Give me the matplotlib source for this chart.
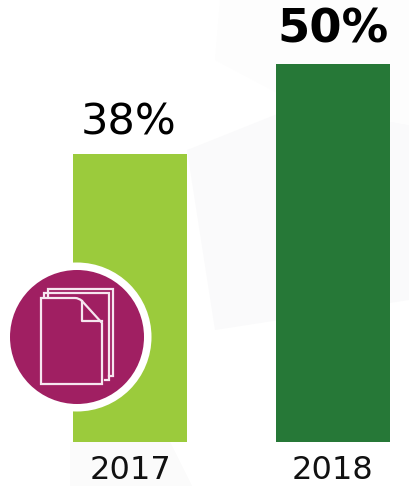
import matplotlib.pyplot as plt
from matplotlib.patches import Circle, Polygon, PathPatch
from matplotlib.path import Path

# Valores
years = ['2017', '2018']
values = [38, 50]
labels = ['38%', '50%']
bar_colors = ['#9bcb3c', '#267837']
label_weights = ['normal', 'bold']
label_sizes = [31, 33.5]

W, H = 409, 486
ICON_COLOR = '#a01f62'
LINE_COLOR = '#f6e6ef'


def draw_background(fig):
    # Formas cinza bem claras atrás das barras
    bg = fig.add_axes([0, 0, 1, 1], zorder=0)
    bg.set_xlim(0, W)
    bg.set_ylim(H, 0)
    bg.axis('off')
    bg.add_patch(Polygon([(187, 150), (300, 105), (409, 125), (409, 300), (215, 330)],
                         closed=True, fc='#fafafb', ec='none'))
    bg.add_patch(Polygon([(220, 0), (409, 0), (409, 125), (300, 105), (215, 60)],
                         closed=True, fc='#fdfdfd', ec='none'))
    bg.add_patch(Polygon([(70, 442), (170, 442), (192, 486), (70, 486)],
                         closed=True, fc='#fbfbfb', ec='none'))


def draw_bars(fig):
    # Eixo com a base da barra em y=442 px
    ax = fig.add_axes([0, (H - 442) / H, 1, 442 / H], zorder=1)
    ax.patch.set_alpha(0)
    ax.set_xlim(-130 / 203, (W - 130) / 203)
    ax.set_ylim(0, 58.4)
    x = range(len(years))
    ax.bar(x, values, width=114 / 203, color=bar_colors)
    for i in x:
        ax.annotate(labels[i], (i, values[i]), xytext=(-1 if i == 0 else 0, 8),
                    textcoords='offset points', ha='center', va='bottom',
                    fontsize=label_sizes[i], fontweight=label_weights[i], color='black')
    ax.set_xticks(list(x), years)
    ax.tick_params(axis='x', length=0, pad=9.5, labelsize=23, labelcolor='#111111')
    ax.set_yticks([])
    for side in ax.spines.values():
        side.set_visible(False)


def draw_icon(fig):
    # Ícone do documento, em pixels da imagem
    ic = fig.add_axes([0, 0, 1, 1], zorder=2)
    ic.patch.set_alpha(0)
    ic.set_xlim(0, W)
    ic.set_ylim(H, 0)
    ic.axis('off')
    ic.add_patch(Circle((77, 337), 74.5, fc='white', ec='none'))
    ic.add_patch(Circle((77, 337), 67, fc=ICON_COLOR, ec='none'))

    lw = 1.6
    # Folhas de trás
    ic.plot([48, 48, 113, 113, 109], [296, 289, 289, 376, 376],
            color=LINE_COLOR, lw=lw, solid_joinstyle='miter')
    ic.plot([44, 44, 109, 109, 105], [296, 293, 293, 380, 380],
            color=LINE_COLOR, lw=lw, solid_joinstyle='miter')
    # Folha da frente com canto dobrado
    page = Path([(41, 384), (41, 298), (75, 298), (79, 298), (82, 301), (102, 323),
                 (102, 384), (41, 384)],
                [Path.MOVETO, Path.LINETO, Path.LINETO, Path.CURVE3, Path.CURVE3,
                 Path.LINETO, Path.LINETO, Path.CLOSEPOLY])
    ic.add_patch(PathPatch(page, fc=ICON_COLOR, ec=LINE_COLOR, lw=lw))
    ic.plot([82, 82, 102], [301, 321, 321], color=LINE_COLOR, lw=lw)


def main():
    fig = plt.figure(figsize=(W / 100, H / 100), dpi=100, facecolor='white')
    draw_background(fig)
    draw_bars(fig)
    draw_icon(fig)
    fig.savefig('out.png', dpi=100)


if __name__ == "__main__":
    main()
